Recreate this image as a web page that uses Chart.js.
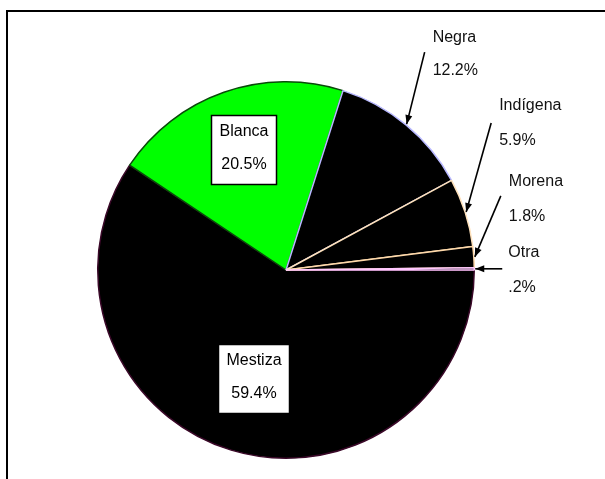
<!DOCTYPE html>
<html>
<head>
<meta charset="utf-8">
<script src="https://cdn.jsdelivr.net/npm/chart.js@4/dist/chart.umd.min.js"></script>
<style>
  html, body { margin: 0; padding: 0; background: #fff; }
  canvas { display: block; }
</style>
</head>
<body>
<canvas id="pie" width="605" height="479"></canvas>
<script>
// slices, clockwise from 3 o'clock
const categories = ['Mestiza', 'Blanca', 'Negra', 'Indígena', 'Morena', 'Otra'];
const percents = [59.4, 20.5, 12.2, 5.9, 1.8, 0.2];

const fills = ['#000000', '#00ff00', '#000000', '#000000', '#000000', '#000000'];
const edges = ['#3a0828', '#0a4a0a', '#b8b8ff', '#ffe2bc', '#ffd9aa', '#ffc8ff'];

// where each label goes: inside boxes or arrows to the rim
const labelStyle = {
  'Mestiza': { inside: true, f: 0.6 },
  'Blanca': { inside: true, f: 0.68 },
  'Negra': { tail: [18, -72], text: [26, -87, -54] },
  'Indígena': { tail: [25, -89], text: [33, -106, -71] },
  'Morena': { tail: [26, -61], text: [34, -75, -40] },
  'Otra': { tail: [27, 0], text: [33, -16, 19] },
};

const FONT = '16px "Liberation Sans", Arial, sans-serif';

function fmt(p) {
  return p.toFixed(1).replace(/^0\./, '.') + '%';
}

function arrow(ctx, x1, y1, x2, y2) {
  ctx.beginPath();
  ctx.moveTo(x1, y1);
  ctx.lineTo(x2, y2);
  ctx.stroke();
  let a = Math.atan2(y2 - y1, x2 - x1);
  let len = 9, w = 3.5;
  ctx.beginPath();
  ctx.moveTo(x2, y2);
  ctx.lineTo(x2 - len * Math.cos(a) + w * Math.sin(a), y2 - len * Math.sin(a) - w * Math.cos(a));
  ctx.lineTo(x2 - len * Math.cos(a) - w * Math.sin(a), y2 - len * Math.sin(a) + w * Math.cos(a));
  ctx.closePath();
  ctx.fill();
}

const labelsPlugin = {
  id: 'sliceLabels',
  afterDraw(chart) {
    const ctx = chart.ctx;
    const meta = chart.getDatasetMeta(0);
    ctx.save();

    // outer frame (right and bottom run off the page)
    ctx.strokeStyle = '#000';
    ctx.lineWidth = 2;
    ctx.strokeRect(7, 11, 700, 600);

    ctx.font = FONT;
    ctx.textBaseline = 'middle';
    meta.data.forEach((arc, i) => {
      const p = arc.getProps(['x', 'y', 'startAngle', 'endAngle', 'outerRadius'], true);
      const mid = (p.startAngle + p.endAngle) / 2;
      const name = categories[i];
      const val = fmt(percents[i]);
      const st = labelStyle[name];
      if (st.inside) {
        const cx = p.x + Math.cos(mid) * p.outerRadius * st.f;
        const cy = p.y + Math.sin(mid) * p.outerRadius * st.f;
        const w = Math.round(Math.max(ctx.measureText(name).width, ctx.measureText(val).width) + 16);
        const h = 69;
        const left = Math.round(cx - w / 2) + 0.5;
        const top = Math.round(cy - h / 2) + 0.5;
        ctx.fillStyle = '#fff';
        ctx.fillRect(left, top, w, h);
        ctx.strokeStyle = '#000';
        ctx.lineWidth = 1.5;
        ctx.strokeRect(left, top, w, h);
        ctx.fillStyle = '#000';
        ctx.textAlign = 'center';
        ctx.fillText(name, left + w / 2, top + 16);
        ctx.fillText(val, left + w / 2, top + 49);
      } else {
        const tx = p.x + Math.cos(mid) * (p.outerRadius + 1);
        const ty = p.y + Math.sin(mid) * (p.outerRadius + 1);
        ctx.strokeStyle = '#000';
        ctx.fillStyle = '#000';
        ctx.lineWidth = 1.6;
        arrow(ctx, tx + st.tail[0], ty + st.tail[1], tx, ty);
        ctx.textAlign = 'left';
        ctx.fillStyle = '#111';
        ctx.fillText(name, tx + st.text[0], ty + st.text[1]);
        ctx.fillText(val, tx + st.text[0], ty + st.text[2]);
      }
    });
    ctx.restore();
  }
};

new Chart(document.getElementById('pie'), {
  type: 'pie',
  data: {
    labels: categories,
    datasets: [{
      data: percents,
      backgroundColor: fills,
      borderColor: edges,
      borderWidth: 1.5,
    }]
  },
  options: {
    responsive: false,
    animation: false,
    rotation: 90,
    layout: { padding: { top: 81, bottom: 20, left: 97, right: 130 } },
    plugins: {
      legend: { display: false },
      tooltip: { enabled: false },
    }
  },
  plugins: [labelsPlugin]
});
</script>
</body>
</html>
